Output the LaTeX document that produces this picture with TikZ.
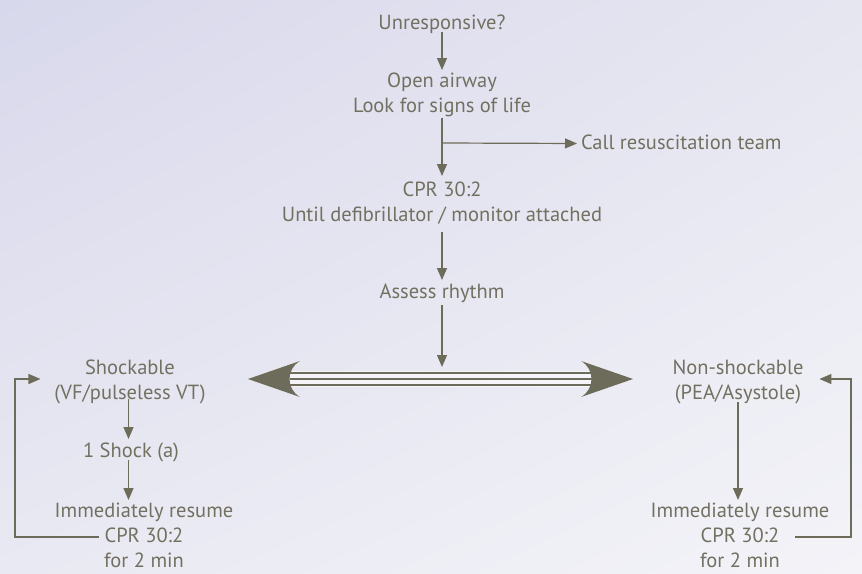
\documentclass[tikz,border=0pt]{standalone}
\usepackage{fontspec}
\setmainfont{PT Sans}
\usetikzlibrary{arrows.meta,shadings}
\definecolor{bgA}{HTML}{D8D8EC}
\definecolor{bgB}{HTML}{E6E6F1}
\definecolor{bgC}{HTML}{E9E9F3}
\definecolor{bgD}{HTML}{F3F3F8}
\definecolor{ink}{HTML}{727060}
\definecolor{lnc}{HTML}{6D6B59}
\newcommand\lstr{\rule[-5pt]{0pt}{21pt}}
\begin{document}
\begin{tikzpicture}[x=1pt,y=-1pt,
  lbl/.style={text=ink, font=\fontsize{20.5}{25}\selectfont, inner sep=0pt, outer sep=0pt, align=center, anchor=base},
  arr/.style={draw=lnc, line width=1.2pt, -{Triangle[length=12pt,width=10pt]}},
  triple/.style={draw=lnc, line width=1.8pt},
  bighead/.style={fill=lnc, draw=none}]
\shade[upper left=bgA, upper right=bgB, lower left=bgC, lower right=bgD] (0,0) rectangle (862,573);
\useasboundingbox (0,0) rectangle (862,573);

% nodes (base = baseline of last line)
\node[lbl] (unresp) at (442,29) {Unresponsive?\lstr};
\node[lbl] (open) at (442,112) {Open airway\lstr\\Look for signs of life\lstr};
\node[lbl, anchor=base west] (call) at (581,149) {Call resuscitation team\lstr};
\node[lbl] (cpr) at (442,221) {CPR 30:2\lstr\\Until defibrillator / monitor attached\lstr};
\node[lbl] (assess) at (442,298) {Assess rhythm\lstr};
\node[lbl] (shock) at (130,399) {Shockable\lstr\\(VF/pulseless VT)\lstr};
\node[lbl] (shk1) at (131,457) {1 Shock (a)\lstr};
\node[lbl] (imm1) at (144,567) {Immediately resume\lstr\\CPR 30:2\lstr\\for 2 min\lstr};
\node[lbl] (pea) at (738,399) {Non-shockable\lstr\\(PEA/Asystole)\lstr};
\node[lbl] (imm2) at (740,567) {Immediately resume\lstr\\CPR 30:2\lstr\\for 2 min\lstr};

% coordinates
\coordinate (br) at (442,143);
\coordinate (dbl) at (442,379);
\coordinate (lA) at (99,537);
\coordinate (lB) at (15,537);
\coordinate (lC) at (15,379);
\coordinate (rA) at (795,537);
\coordinate (rB) at (851,537);
\coordinate (rC) at (851,379);
\coordinate (tipL) at (248,379);
\coordinate (tipR) at (633,379);

% top chain
\draw[arr, shorten <=-2pt, shorten >=1pt] (unresp.south) -- (open.north);
\draw[arr, shorten <=1pt, shorten >=4pt] (open.south) -- (cpr.north);
\draw[arr, shorten >=4pt] (br) -- (call.west);
\draw[arr, shorten <=6pt, shorten >=2pt] (cpr.south) -- (assess.north);
\draw[arr, shorten <=2pt, shorten >=12pt] (assess.south) -- (dbl);

% big double arrow
\fill[white, opacity=0.55] (290,371) rectangle (592,387);
\draw[triple] (290,373) -- (592,373);
\draw[triple] (290,379) -- (592,379);
\draw[triple] (290,385) -- (592,385);
\fill[bighead] (tipL) -- ++(52,-18) .. controls ++(-14,8) and ++(-14,-8) .. ++(0,36) -- cycle;
\fill[bighead] (tipR) -- ++(-52,-18) .. controls ++(14,8) and ++(14,-8) .. ++(0,36) -- cycle;

% left branch
\draw[arr, shorten <=-5pt, shorten >=2pt] ([xshift=-1.5pt]shock.south) -- ([xshift=-1.5pt]shock.south |- shk1.north);
\draw[arr, shorten <=-2pt, shorten >=1pt] ([xshift=-2.5pt]shk1.south) -- ([xshift=-2.5pt]shk1.south |- imm1.north);
\draw[arr, shorten >=14pt] (lA) -- (lB) -- (lC) -- (lC -| shock.west);

% right branch
\draw[arr, shorten <=-2pt, shorten >=1pt] (pea.south) -- (pea.south |- imm2.north);
\draw[arr, shorten >=16pt] (rA) -- (rB) -- (rC) -- (rC -| pea.east);
\end{tikzpicture}
\end{document}
